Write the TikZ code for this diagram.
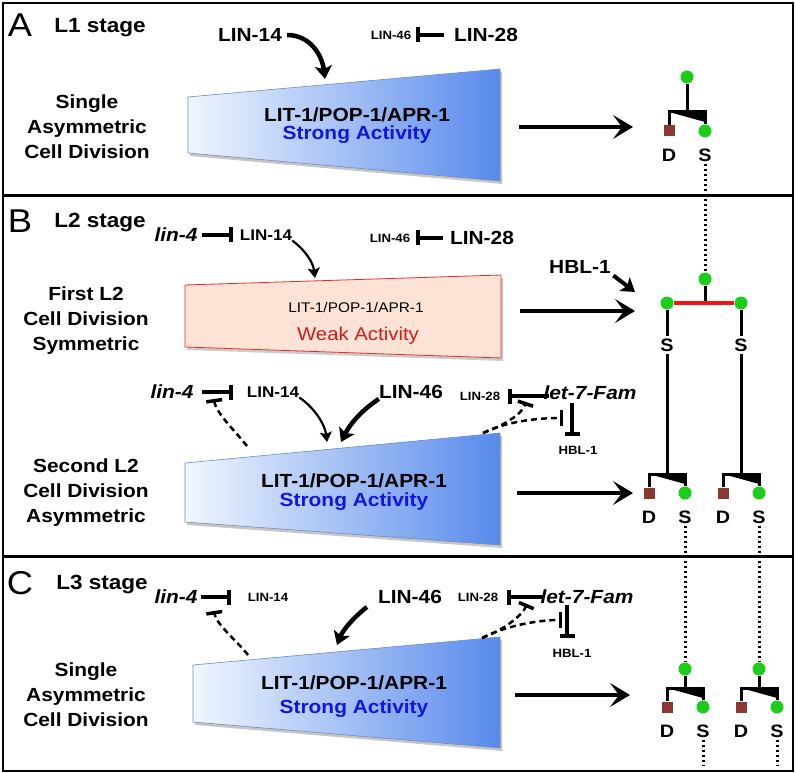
\documentclass[tikz,border=0pt]{standalone}
\usepackage{fontspec}
\setmainfont[FakeStretch=1.1]{Liberation Sans}
\usetikzlibrary{arrows.meta,shadows}

\definecolor{cellgreen}{RGB}{25,205,25}
\definecolor{celldeath}{RGB}{140,55,50}
\definecolor{actblue}{RGB}{20,20,225}
\definecolor{weakred}{RGB}{215,25,25}
\definecolor{boxblue}{RGB}{88,138,235}
\definecolor{boxpale}{RGB}{240,246,254}
\definecolor{boxedge}{RGB}{110,140,190}
\definecolor{pinkfill}{RGB}{252,227,214}
\definecolor{pinkedge}{RGB}{228,45,40}
\definecolor{splitred}{RGB}{240,20,20}

\tikzset{
  every node/.style={inner sep=0pt},
  panel/.style={font=\fontsize{33}{36}\selectfont},
  stage/.style={font=\bfseries\fontsize{20.5}{24}\selectfont},
  gene/.style={font=\bfseries\fontsize{19}{22}\selectfont},
  genemid/.style={font=\bfseries\fontsize{15.5}{18}\selectfont},
  genesm/.style={font=\bfseries\fontsize{12}{14}\selectfont},
  mirna/.style={font=\bfseries\itshape\fontsize{19}{22}\selectfont},
  desc/.style={font=\bfseries\fontsize{19}{25}\selectfont, align=center},
  cell/.style={font=\bfseries\fontsize{18}{20}\selectfont, inner sep=2pt},
  stemdot/.style={circle, fill=cellgreen, minimum size=13pt},
  deadsq/.style={rectangle, fill=celldeath, minimum size=11pt},
  lin/.style={line width=3pt},
  fate/.style={line width=3pt, dash pattern=on 2.5pt off 2.5pt},
  act/.style={-{Stealth[length=13pt,width=17pt,inset=3pt]}, line width=4.5pt},
  thinact/.style={-{Stealth[length=10pt,width=12pt,inset=2pt]}, line width=2.2pt},
  inhib/.style={-{Bar[width=15pt]}, line width=3.5pt},
  dashinh/.style={-{Bar[width=16pt,line width=3.5pt]}, line width=2.5pt, dash pattern=on 6pt off 4pt},
  push/.style={-{Stealth[length=20pt,width=24pt,inset=9pt]}, line width=4.5pt},
  strongbox/.style={drop shadow={shadow xshift=2pt,shadow yshift=-3pt,opacity=.45},
    left color=boxpale, right color=boxblue, draw=boxedge, line width=.6pt},
  weakbox/.style={drop shadow={shadow xshift=2pt,shadow yshift=-3pt,opacity=.4},
    fill=pinkfill, draw=pinkedge, line width=.8pt}
}

\begin{document}
\begin{tikzpicture}[x=1pt,y=-1pt]
\useasboundingbox (0,0) rectangle (796,773);
\draw[line width=1.3pt] (3,3) rectangle (793,195);
\draw[line width=1.3pt] (3,196) rectangle (793,556);
\draw[line width=1.3pt] (3,557) rectangle (793,771);

% A: L1 stage
\node[panel] (pA) at (20,25) {A};
\node[stage] (sA) at (100,28) {L1 stage};
\node[gene] (lin14a) at (250,35) {LIN-14};
\node[genesm] (lin46a) at (391,35) {LIN-46};
\node[gene] (lin28a) at (486,35) {LIN-28};
\node[desc] (dA) at (87,127) {Single\\Asymmetric\\Cell Division};
\path[strongbox] (188,97) -- (500,69) -- (500,181) -- (188,153) -- cycle;
\node[gene] (litA) at (357,115) {LIT-1/POP-1/APR-1};
\node[gene, text=actblue] (strA) at (357,135) {Strong Activity};
\coordinate (tA) at (325,79);
\draw[act, shorten <=5pt] (lin14a.east) .. controls (310,35) and (322,55) .. (tA);
\draw[inhib, shorten <=10pt, shorten >=5pt] (lin28a.west) -- (lin46a.east);
\coordinate (fromA) at (519,127);
\coordinate (toA) at (633,127);
\draw[push] (fromA) -- (toA);

% B: L2 stage, first division
\node[panel] (pB) at (20,221) {B};
\node[stage] (sB) at (100,223) {L2 stage};
\node[mirna] (lin4b) at (176,235) {lin-4};
\node[genemid] (lin14b) at (266,235) {LIN-14};
\node[genesm] (lin46b) at (390,238) {LIN-46};
\node[gene] (lin28b) at (482,238) {LIN-28};
\draw[inhib, shorten <=4pt, shorten >=7pt] (lin4b.east) -- (lin14b.west);
\draw[inhib, shorten <=7pt, shorten >=6pt] (lin28b.west) -- (lin46b.east);
\node[desc] (dB) at (86,321) {First L2\\Cell Division\\Symmetric};
\path[weakbox] (185,285) -- (501,275) -- (501,358) -- (185,347) -- cycle;
\node[font=\fontsize{14}{16}\selectfont] (litB) at (356,307) {LIT-1/POP-1/APR-1};
\node[font=\fontsize{18.5}{21}\selectfont, text=weakred] (weakB) at (358,336) {Weak Activity};
\coordinate (tB) at (315,278);
\draw[thinact] (lin14b.south east) .. controls (305,250) and (313,262) .. (tB);
\node[gene] (hbl1b) at (580,267) {HBL-1};
\coordinate (hbB) at (635,292);
\draw[act, line width=4pt, shorten <=3pt] (hbl1b.south east) -- (hbB);
\coordinate (fromB) at (520,311);
\coordinate (toB) at (635,311);
\draw[push] (fromB) -- (toB);

% B: second division
\node[mirna] (lin4c) at (172,392) {lin-4};
\node[genemid] (lin14c) at (273,392) {LIN-14};
\node[gene] (lin46c) at (411,392) {LIN-46};
\node[genesm] (lin28c) at (480,396) {LIN-28};
\node[mirna] (let7c) at (590,393) {let-7-Fam};
\node[genesm] (hbl1c) at (578,450) {HBL-1};
\draw[inhib, shorten <=8pt, shorten >=14pt] (lin4c.east) -- (lin14c.west);
\draw[inhib, shorten <=-6pt, shorten >=8pt] (let7c.west |- lin28c) -- (lin28c.east);
\coordinate (hbc) at ([xshift=-6pt]hbl1c.north);
\draw[inhib, shorten <=3pt, shorten >=10pt] (hbc |- let7c.south) -- (hbc);
\node[desc] (dB2) at (86,493) {Second L2\\Cell Division\\Asymmetric};
\path[strongbox] (185,463) -- (500,433) -- (500,545) -- (185,522) -- cycle;
\node[gene] (litB2) at (354,481) {LIT-1/POP-1/APR-1};
\node[gene, text=actblue] (strB2) at (354,502) {Strong Activity};
\coordinate (tB2a) at (327,442);
\draw[thinact] (lin14c.south east) .. controls (315,408) and (325,425) .. (tB2a);
\coordinate (tB2b) at (341,442);
\draw[act] (lin46c.south west) .. controls (362,410) and (350,424) .. (tB2b);
\coordinate (b2s) at (247,446);
\coordinate (b2e) at (214,399);
\draw[dashinh] (b2s) .. controls (236,432) and (216,413) .. (b2e);
\coordinate (b2r) at (483,433);
\coordinate (b2u) at (526,402);
\coordinate (b2h) at (563,418);
\draw[dashinh] (b2r) .. controls (505,425) and (522,414) .. (b2u);
\draw[dashinh] (b2r) .. controls (505,422) and (535,418) .. (b2h);
\coordinate (fromB2) at (517,493);
\coordinate (toB2) at (633,493);
\draw[push] (fromB2) -- (toB2);

% C: L3 stage
\node[panel] (pC) at (20,583) {C};
\node[stage] (sC) at (102,585) {L3 stage};
\node[mirna] (lin4d) at (176,597) {lin-4};
\node[genesm] (lin14d) at (268,597) {LIN-14};
\node[gene] (lin46d) at (410,597) {LIN-46};
\node[genesm] (lin28d) at (478,597) {LIN-28};
\node[mirna] (let7d) at (587,597) {let-7-Fam};
\node[genesm] (hbl1d) at (572,653) {HBL-1};
\draw[inhib, shorten <=3pt, shorten >=17pt] (lin4d.east) -- (lin14d.west);
\draw[inhib, shorten <=-3pt, shorten >=9pt] (let7d.west) -- (lin28d.east);
\coordinate (hbd) at ([xshift=-5pt]hbl1d.north);
\draw[inhib, shorten <=1pt, shorten >=11pt] (hbd |- let7d.south) -- (hbd);
\node[desc] (dC) at (86,695) {Single\\Asymmetric\\Cell Division};
\path[strongbox] (193,665) -- (500,637) -- (500,748) -- (193,722) -- cycle;
\node[gene] (litC) at (354,683) {LIT-1/POP-1/APR-1};
\node[gene, text=actblue] (strC) at (354,709) {Strong Activity};
\coordinate (tC) at (337,645);
\draw[act] ([xshift=-11pt,yshift=-10pt]lin46d.west) .. controls (353,618) and (343,630) .. (tC);
\coordinate (c2s) at (248,655);
\coordinate (c2e) at (214,611);
\draw[dashinh] (c2s) .. controls (237,641) and (216,624) .. (c2e);
\coordinate (c2r) at (482,638);
\coordinate (c2u) at (527,604);
\coordinate (c2h) at (562,620);
\draw[dashinh] (c2r) .. controls (503,630) and (522,616) .. (c2u);
\draw[dashinh] (c2r) .. controls (503,627) and (535,620) .. (c2h);
\coordinate (fromC) at (515,695);
\coordinate (toC) at (630,695);
\draw[push] (fromC) -- (toC);

% lineages
\foreach \t/\x/\y in {a/687/112, bl/667/474, br/741/474, cl/685/688, cr/759/688} {
  \coordinate (\t j) at (\x,\y);
  \coordinate (\t L) at (\x-18,\y);
  \coordinate (\t R) at (\x+18,\y);
  \node[deadsq] (\t D) at (\x-18,\y+19) {};
  \node[stemdot] (\t S) at (\x+18,\y+19) {};
  \node[cell] (\t Dl) at (\x-18,\y+43) {D};
  \node[cell] (\t Sl) at (\x+18,\y+43) {S};
  \draw[lin] (\t D) -- (\t L) -- (\t R) -- (\t S);
  \fill (\t L) -- (\t R) -- ([yshift=-10pt]\t R) -- cycle;
}
\node[stemdot] (a0) at (687,77) {};
\draw[lin] (a0) -- (aj);
\node[stemdot] (b0) at (705,279) {};
\coordinate (bj) at (705,303);
\node[stemdot] (bL) at (667,303) {};
\node[stemdot] (bR) at (741,303) {};
\node[cell] (bLs) at (667,345) {S};
\node[cell] (bRs) at (741,345) {S};
\draw[lin] (b0) -- (bj);
\draw[line width=4.5pt, splitred] (bL) -- (bR);
\draw[lin] (bL) -- (bLs);
\draw[lin] (bR) -- (bRs);
\draw[lin] (bLs) -- (blj);
\draw[lin] (bRs) -- (brj);
\node[stemdot] (cl0) at (685,669) {};
\node[stemdot] (cr0) at (759,669) {};
\draw[lin] (cl0) -- (clj);
\draw[lin] (cr0) -- (crj);
\coordinate (clend) at (703,766);
\coordinate (crend) at (777,766);
\draw[fate] (aSl) -- (b0);
\draw[fate] (blSl) -- (cl0);
\draw[fate] (brSl) -- (cr0);
\draw[fate] (clSl) -- (clend);
\draw[fate] (crSl) -- (crend);
\end{tikzpicture}
\end{document}
